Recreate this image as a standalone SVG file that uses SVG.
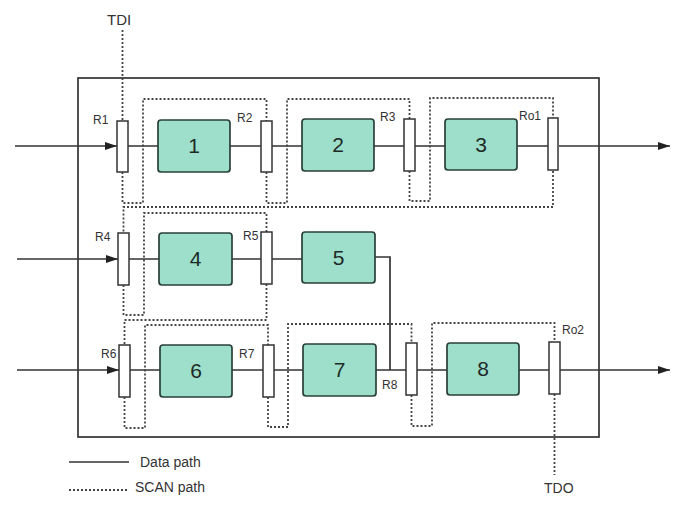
<svg xmlns="http://www.w3.org/2000/svg" width="684" height="505" viewBox="0 0 684 505">
<defs>
<marker id="arr" viewBox="0 0 12 8" refX="12" refY="4" markerWidth="12" markerHeight="8" markerUnits="userSpaceOnUse" orient="auto">
<path d="M0,0 L12,4 L0,8 z" fill="#222"/>
</marker>
<style>
.data{fill:none;stroke:#333;stroke-width:1.7}
.scan{fill:none;stroke:#444;stroke-width:1.8;stroke-dasharray:2 2}
.blk{fill:#9ddfcb;stroke:#2a4039;stroke-width:1.7}
.reg{fill:#fff;stroke:#333;stroke-width:1.5}
.num{font-family:"Liberation Sans",Arial,sans-serif;font-size:21px;fill:#1d2b26;text-anchor:middle}
.lbl{font-family:"Liberation Sans",Arial,sans-serif;font-size:12px;fill:#333}
.big{font-family:"Liberation Sans",Arial,sans-serif;font-size:15px;fill:#333}
.leg{font-family:"Liberation Sans",Arial,sans-serif;font-size:14px;fill:#333}
</style>
</defs>
<rect width="684" height="505" fill="#fff"/>
<rect id="chip" x="78" y="78" width="521" height="359" fill="none" stroke="#333" stroke-width="1.7"/>

<g id="connectors">
<!-- data paths -->
<path class="data" d="M15,146 H117" marker-end="url(#arr)"/>
<path class="data" d="M128,146 H158 M230,146 H261 M272,146 H302 M374,146 H404 M415,146 H445 M517,146 H548"/>
<path class="data" d="M559,146 H670" marker-end="url(#arr)"/>
<path class="data" d="M17,259 H118" marker-end="url(#arr)"/>
<path class="data" d="M129,259 H159 M232,259 H261 M272,259 H302"/>
<path class="data" d="M375,257 H390 V370"/>
<path class="data" d="M17,370 H119" marker-end="url(#arr)"/>
<path class="data" d="M130,370 H160 M232,370 H263 M274,370 H303 M376,370 H406 M417,370 H447 M519,370 H549"/>
<path class="data" d="M560,370 H670" marker-end="url(#arr)"/>
<!-- scan paths -->
<path class="scan" d="M122.5,30 V121"/>
<path class="scan" d="M122.5,172 V203 H143 V99 H266.5 V121"/>
<path class="scan" d="M266.5,172 V203 H287 V99 H409.5 V120"/>
<path class="scan" d="M409.5,171 V201 H430 V98 H553 V120"/>
<path class="scan" d="M553,171 V207 H123.5 V233"/>
<path class="scan" d="M123.5,285 V315 H144 V213 H266.5 V232"/>
<path class="scan" d="M266.5,284 V320 H124.5 V345"/>
<path class="scan" d="M124.5,397 V428 H145 V325 H268 V345"/>
<path class="scan" d="M268,397 V427 H288 V324 H411.5 V343"/>
<path class="scan" d="M411.5,395 V426 H432 V323 H554.5 V343"/>
<path class="scan" d="M554.5,394 V475"/>
</g>

<g id="R1"><rect class="reg" x="117" y="121" width="11" height="51"/><text class="lbl" x="93" y="124">R1</text></g>
<g id="B1"><rect class="blk" x="158" y="120" width="72" height="52" rx="3"/><text class="num" x="194" y="153">1</text></g>
<g id="R2"><rect class="reg" x="261" y="121" width="11" height="51"/><text class="lbl" x="237" y="122">R2</text></g>
<g id="B2"><rect class="blk" x="302" y="119" width="72" height="52" rx="3"/><text class="num" x="338" y="152">2</text></g>
<g id="R3"><rect class="reg" x="404" y="119" width="11" height="52"/><text class="lbl" x="380" y="121">R3</text></g>
<g id="B3"><rect class="blk" x="445" y="119" width="72" height="51" rx="3"/><text class="num" x="481" y="152">3</text></g>
<g id="Ro1"><rect class="reg" x="548" y="118" width="10" height="52"/><text class="lbl" x="519" y="120">Ro1</text></g>

<g id="R4"><rect class="reg" x="118" y="233" width="11" height="52"/><text class="lbl" x="95" y="241">R4</text></g>
<g id="B4"><rect class="blk" x="159" y="233" width="73" height="52" rx="3"/><text class="num" x="195.5" y="266">4</text></g>
<g id="R5"><rect class="reg" x="261" y="232" width="11" height="52"/><text class="lbl" x="243" y="240">R5</text></g>
<g id="B5"><rect class="blk" x="302" y="232" width="73" height="51" rx="3"/><text class="num" x="338.5" y="265">5</text></g>

<g id="R6"><rect class="reg" x="119" y="345" width="11" height="52"/><text class="lbl" x="101" y="358">R6</text></g>
<g id="B6"><rect class="blk" x="160" y="345" width="72" height="52" rx="3"/><text class="num" x="196" y="378">6</text></g>
<g id="R7"><rect class="reg" x="263" y="345" width="11" height="52"/><text class="lbl" x="239" y="358">R7</text></g>
<g id="B7"><rect class="blk" x="303" y="344" width="73" height="52" rx="3"/><text class="num" x="339.5" y="377">7</text></g>
<g id="R8"><rect class="reg" x="406" y="343" width="11" height="52"/><text class="lbl" x="382" y="389">R8</text></g>
<g id="B8"><rect class="blk" x="447" y="343" width="72" height="52" rx="3"/><text class="num" x="483" y="376">8</text></g>
<g id="Ro2"><rect class="reg" x="549" y="342" width="11" height="52"/><text class="lbl" x="562" y="334">Ro2</text></g>

<g id="TDI"><text class="big" x="107" y="25">TDI</text></g>
<g id="TDO"><text class="big" x="544" y="493" style="font-size:14px">TDO</text></g>

<g id="legend">
<line class="data" x1="69" y1="462" x2="129" y2="462"/>
<text class="leg" x="140" y="467">Data path</text>
<line class="scan" x1="69" y1="490" x2="129" y2="490"/>
<text class="leg" x="135" y="492">SCAN path</text>
</g>
</svg>
